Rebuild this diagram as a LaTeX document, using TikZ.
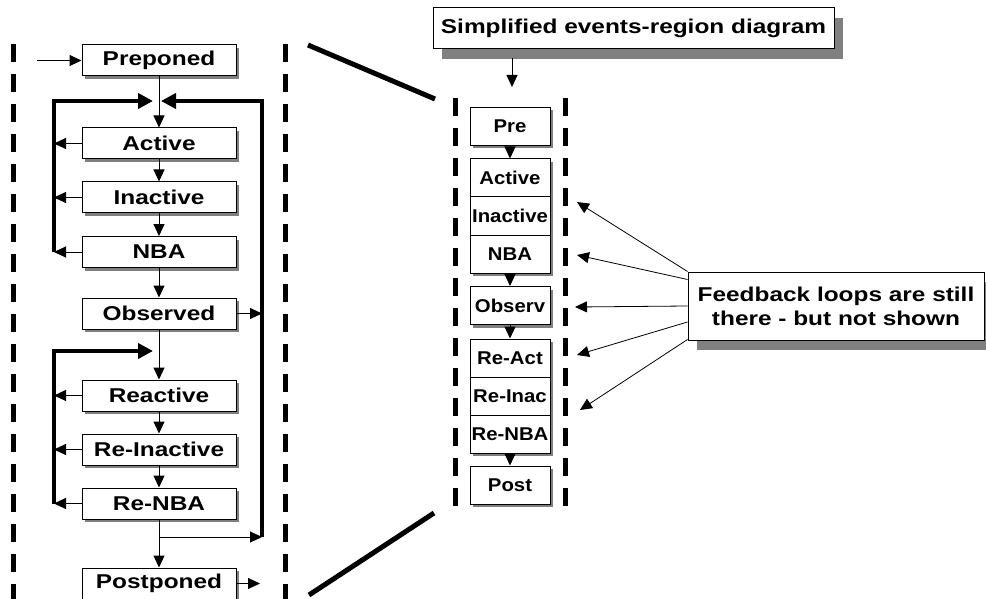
\documentclass[tikz,border=0pt]{standalone}
\usepackage{fontspec}
\setmainfont{Liberation Sans}
\newfontfamily\lfont[FakeStretch=1.22]{Liberation Sans}
\newfontfamily\rfont[FakeStretch=1.1]{Liberation Sans}
\usetikzlibrary{arrows.meta,shadows}
\tikzset{
  shadowA/.style={drop shadow={shadow xshift=3pt,shadow yshift=-3pt,fill=gray,opacity=1}},
  shadowB/.style={drop shadow={shadow xshift=9pt,shadow yshift=-10pt,fill=gray,opacity=1}},
  lbox/.style={draw=black,line width=1pt,fill=white,minimum width=154pt,minimum height=31pt,
    inner sep=0pt,font=\lfont\bfseries\fontsize{20}{22}\selectfont,shadowA},
  rbox/.style={draw=black,line width=1pt,fill=white,minimum width=80pt,minimum height=38pt,
    inner sep=0pt,font=\rfont\bfseries\fontsize{18.5}{22}\selectfont,shadowA},
  bigbox/.style={draw=black,line width=1pt,fill=white,inner sep=0pt,align=center,
    font=\lfont\bfseries\fontsize{20}{24}\selectfont,shadowB},
  tarr/.style={line width=1pt,-{Triangle[length=12pt,width=11pt]}},
  farr/.style={line width=0.8pt,-{Triangle[length=12pt,width=11pt]}},
  thk/.style={line width=4pt,-{Triangle[length=15pt,width=15pt]}},
  dashv/.style={line width=5pt,dash pattern=on 18pt off 12pt},
  diag/.style={line width=5pt},
}
\begin{document}
\begin{tikzpicture}[x=1pt,y=-1pt]
\useasboundingbox (0,0) rectangle (986,599);
\fill[white] (0,0) rectangle (986,599);

% dashed boundaries
\coordinate (d1a) at (13,44);  \coordinate (d1b) at (13,599);
\coordinate (d2a) at (285,44); \coordinate (d2b) at (285,599);
\coordinate (d3a) at (455,98); \coordinate (d3b) at (455,512);
\coordinate (d4a) at (565,98); \coordinate (d4b) at (565,512);
\draw[dashv] (d1a) -- (d1b);
\draw[dashv] (d2a) -- (d2b);
\draw[dashv] (d3a) -- (d3b);
\draw[dashv] (d4a) -- (d4b);

% zoom lines
\coordinate (z1a) at (308,45);  \coordinate (z1b) at (435,99);
\coordinate (z2a) at (309,595); \coordinate (z2b) at (434,513);
\draw[diag] (z1a) -- (z1b);
\draw[diag] (z2a) -- (z2b);

% left column
\node[lbox] (prep)    at (159,60.5)  {Preponed};
\node[lbox] (act)     at (159,143.5) {Active};
\node[lbox] (inact)   at (159,197.5) {Inactive};
\node[lbox] (nba)     at (159,252)   {NBA};
\node[lbox] (obs)     at (159,313.5) {Observed};
\node[lbox] (react)   at (159,395.5) {Reactive};
\node[lbox] (reinact) at (159,449.5) {Re-Inactive};
\node[lbox] (renba)   at (159,503.5) {Re-NBA};
\node[lbox] (post)    at (159,583.5) {Postponed};

\coordinate (entry) at (37,60.5);
\draw[tarr] (entry) -- (prep);
\draw[tarr] (prep) -- (act);
\draw[tarr] (act) -- (inact);
\draw[tarr] (inact) -- (nba);
\draw[tarr] (nba) -- (obs);
\draw[tarr] (obs) -- (react);
\draw[tarr] (react) -- (reinact);
\draw[tarr] (reinact) -- (renba);
\draw[tarr] (renba) -- (post);

% left loops
\coordinate (L1bot) at (54,252);  \coordinate (L1tip) at (153,101);
\coordinate (L2bot) at (54,504);  \coordinate (L2tip) at (153,351);
\draw[thk] (L1bot) |- (L1tip);
\draw[thk] (L2bot) |- (L2tip);
\draw[tarr] (act.west) -- (act.west -| L1bot);
\draw[tarr] (inact.west) -- (inact.west -| L1bot);
\draw[tarr] (nba.west) -- (nba.west -| L1bot);
\draw[tarr] (react.west) -- (react.west -| L2bot);
\draw[tarr] (reinact.west) -- (reinact.west -| L2bot);
\draw[tarr] (renba.west) -- (renba.west -| L2bot);

% right loop
\coordinate (Rbot) at (262,537); \coordinate (Rtip) at (161,101);
\coordinate (br) at (159,537);
\coordinate (pe) at (260,583.5);
\draw[thk] (Rbot) |- (Rtip);
\draw[tarr] (br) -- (Rbot);
\draw[tarr] (obs.east) -- (obs.east -| Rbot);
\draw[tarr] (post.east) -- (pe);

% simplified diagram
\node[bigbox,minimum width=401pt,minimum height=41pt] (simp) at (633.5,28.5) {Simplified events-region diagram};
\coordinate (sa) at (512,58); \coordinate (sb) at (512,87);
\draw[tarr] (sa) -- (sb);

\node[rbox] (rpre)   at (510,126.5) {Pre};
\node[rbox] (ract)   at (510,178)   {Active};
\node[rbox] (rinact) at (510,216)   {Inactive};
\node[rbox] (rnba)   at (510,254)   {NBA};
\node[rbox] (robs)   at (510,305.5) {Observ};
\node[rbox] (rreact) at (510,358)   {Re-Act};
\node[rbox] (rreina) at (510,396)   {Re-Inac};
\node[rbox] (rrenba) at (510,434)   {Re-NBA};
\node[rbox] (rpost)  at (510,485)   {Post};
\draw[tarr] (rpre) -- (ract);
\draw[tarr] (rnba) -- (robs);
\draw[tarr] (robs) -- (rreact);
\draw[tarr] (rrenba) -- (rpost);

% feedback box
\node[bigbox,minimum width=296pt,minimum height=68pt] (fb) at (836,306) {Feedback loops are still\\there - but not shown};
\coordinate (t1) at (577,202);
\coordinate (t2) at (577,255);
\coordinate (t3) at (575,307);
\coordinate (t4) at (577,355);
\coordinate (t5) at (580,410);
\draw[farr] (fb.north west) -- (t1);
\draw[farr] ([yshift=-8pt]fb.north west) -- (t2);
\draw[farr] (fb.west) -- (t3);
\draw[farr] ([yshift=-16pt]fb.west) -- (t4);
\draw[farr] ([yshift=1pt]fb.south west) -- (t5);
\end{tikzpicture}
\end{document}
